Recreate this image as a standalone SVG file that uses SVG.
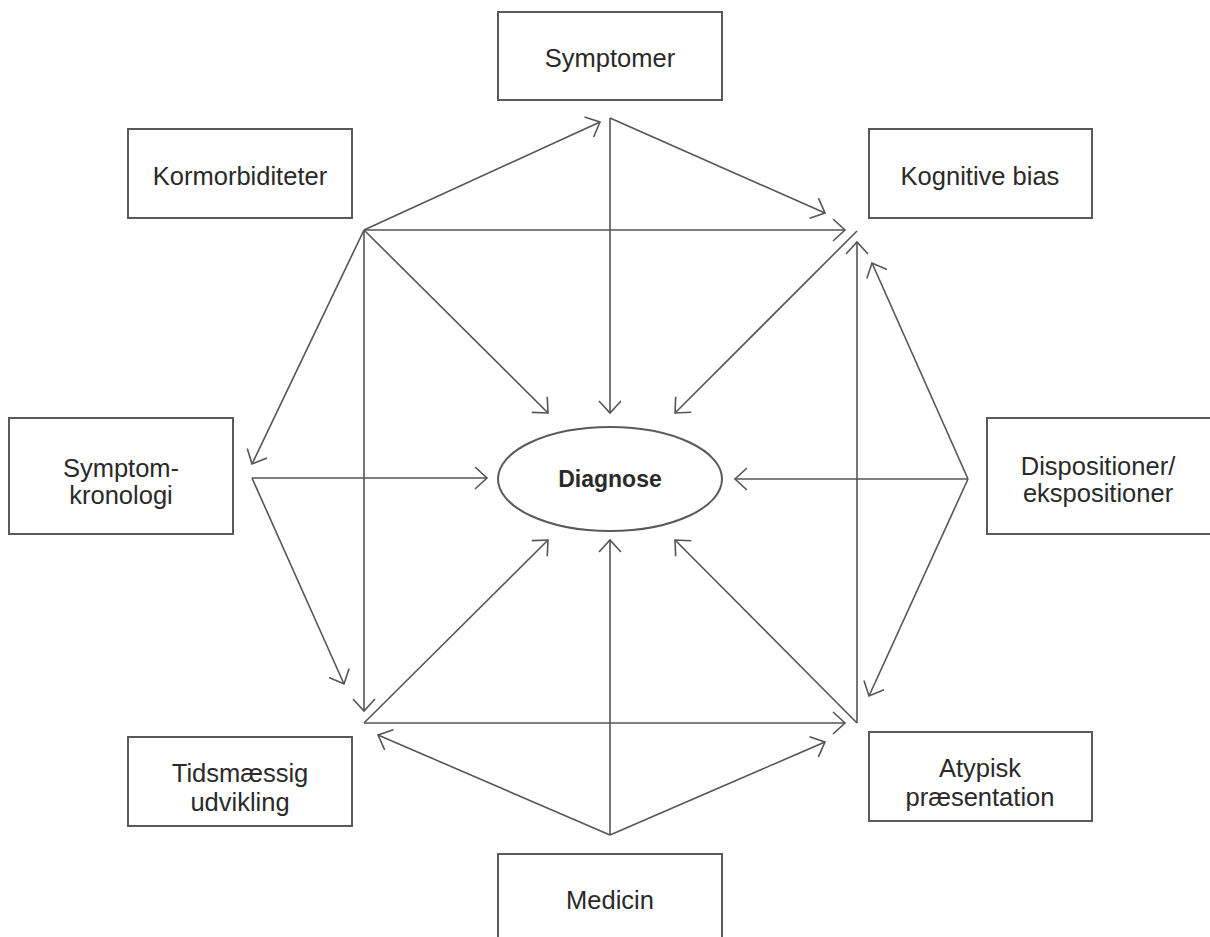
<svg xmlns="http://www.w3.org/2000/svg" width="1210" height="937" viewBox="0 0 1210 937">
  <style>
    .box { fill: #ffffff; stroke: #5a5a5a; stroke-width: 2; }
    .lbl { font-family: "Liberation Sans", Arial, sans-serif; font-size: 25.5px; fill: #2a2a2a; text-anchor: middle; }
    .bold { font-weight: bold; font-size: 23px; }
    .con line { stroke: #555555; stroke-width: 1.6; fill: none; }
    .arr { marker-end: url(#ah); }
  </style>
  <defs>
    <marker id="ah" markerUnits="userSpaceOnUse" viewBox="-15 -13 17 26" markerWidth="17" markerHeight="26" refX="0" refY="0" orient="auto">
      <path d="M -12 -11 L 0 0 L -12 11" fill="none" stroke="#555555" stroke-width="1.6"/>
    </marker>
  </defs>
  <rect width="1210" height="937" fill="#ffffff"/>

  <g id="connectors" class="con">
    <line class="arr" x1="364" y1="230" x2="600" y2="122"/>
    <line class="arr" x1="364" y1="230" x2="845" y2="230"/>
    <line class="arr" x1="364" y1="230" x2="548" y2="413"/>
    <line class="arr" x1="364" y1="230" x2="364" y2="711"/>
    <line class="arr" x1="364" y1="230" x2="252" y2="464"/>
    <line class="arr" x1="610" y1="118" x2="610" y2="413"/>
    <line class="arr" x1="610" y1="118" x2="825" y2="213"/>
    <line class="arr" x1="857" y1="231" x2="675" y2="413"/>
    <line class="arr" x1="968" y1="479" x2="872" y2="263"/>
    <line class="arr" x1="968" y1="479" x2="735" y2="479"/>
    <line class="arr" x1="968" y1="479" x2="869" y2="696"/>
    <line class="arr" x1="857" y1="723" x2="857" y2="242"/>
    <line class="arr" x1="857" y1="723" x2="675" y2="540"/>
    <line class="arr" x1="364" y1="723" x2="845" y2="723"/>
    <line class="arr" x1="364" y1="723" x2="548" y2="540"/>
    <line class="arr" x1="610" y1="835" x2="378" y2="735"/>
    <line class="arr" x1="610" y1="835" x2="825" y2="742"/>
    <line class="arr" x1="610" y1="835" x2="610" y2="540"/>
    <line class="arr" x1="252" y1="478" x2="487" y2="478"/>
    <line class="arr" x1="252" y1="478" x2="344" y2="684"/>
  </g>

  <g id="symptomer">
    <rect class="box" x="498" y="12" width="224" height="88"/>
    <text class="lbl" x="610" y="67">Symptomer</text>
  </g>
  <g id="kormorbiditeter">
    <rect class="box" x="128" y="129" width="224" height="89"/>
    <text class="lbl" x="240" y="185">Kormorbiditeter</text>
  </g>
  <g id="kognitive-bias">
    <rect class="box" x="869" y="129" width="223" height="89"/>
    <text class="lbl" x="980" y="185">Kognitive bias</text>
  </g>
  <g id="symptom-kronologi">
    <rect class="box" x="9" y="418" width="224" height="116"/>
    <text class="lbl" x="121" y="477">Symptom-</text>
    <text class="lbl" x="121" y="504">kronologi</text>
  </g>
  <g id="dispositioner">
    <rect class="box" x="987" y="418" width="230" height="116"/>
    <text class="lbl" x="1098" y="475">Dispositioner/</text>
    <text class="lbl" x="1098" y="502">ekspositioner</text>
  </g>
  <g id="tidsmaessig">
    <rect class="box" x="128" y="737" width="224" height="89"/>
    <text class="lbl" x="240" y="782">Tidsmæssig</text>
    <text class="lbl" x="240" y="811">udvikling</text>
  </g>
  <g id="atypisk">
    <rect class="box" x="869" y="732" width="223" height="89"/>
    <text class="lbl" x="980" y="777">Atypisk</text>
    <text class="lbl" x="980" y="806">præsentation</text>
  </g>
  <g id="medicin">
    <rect class="box" x="498" y="854" width="224" height="100"/>
    <text class="lbl" x="610" y="909">Medicin</text>
  </g>
  <g id="diagnose">
    <ellipse class="box" cx="610" cy="479" rx="112" ry="52" stroke-width="1.6"/>
    <text class="lbl bold" x="610" y="487">Diagnose</text>
  </g>
</svg>
